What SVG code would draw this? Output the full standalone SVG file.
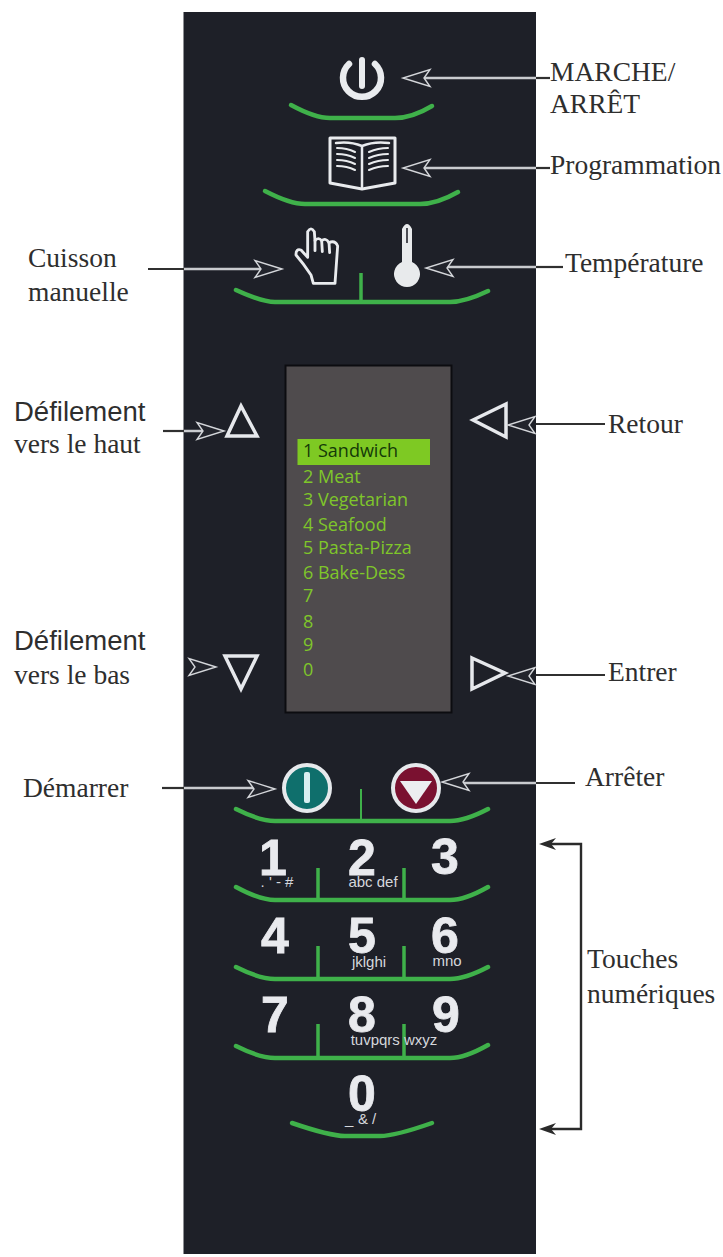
<svg xmlns="http://www.w3.org/2000/svg" width="723" height="1257" viewBox="0 0 723 1257">
<style>
.lab{font-family:"Liberation Serif",serif;font-size:27.500px;fill:#2e2e2e}
.labs{font-family:"Liberation Sans",sans-serif;font-size:27.500px;fill:#2e2e2e}
.arc{fill:none;stroke:#3fb14a;stroke-width:4.500;stroke-linecap:round;stroke-linejoin:round}
.tick{fill:none;stroke:#3fb14a;stroke-width:3.500}
.ico{fill:none;stroke:#e9ebee;stroke-linejoin:round;stroke-linecap:round}
.tri{fill:none;stroke:#e6e8ec;stroke-width:3.500;stroke-linejoin:miter}
.d{font-family:"Liberation Sans",sans-serif;font-weight:700;font-size:50px;fill:#e9eaee;stroke:#e9eaee;stroke-width:.8;text-anchor:middle}
.s{font-family:"Liberation Sans",sans-serif;font-size:15px;fill:#d5d7dc;text-anchor:middle}
.m{font-family:"Open Sans",sans-serif;font-size:18px;fill:#7fc62a}
.lo{stroke:#303030;stroke-width:2.200;fill:none}
.li{stroke:#c9cbcf;stroke-width:2.500;fill:none}
.hd{fill:#22242c;stroke:#d4d6da;stroke-width:1.400;stroke-linejoin:miter}
.bk{fill:#2a2a2a}
</style>
<defs>
<path id="head" d="M0,0 L-27,-8.500 L-21,0 L-27,8.500 Z"/>
</defs>
<rect width="723" height="1257" fill="#fff"/>
<rect id="panel" x="183.500" y="12" width="352.500" height="1242" fill="#1e2028"/>

<g id="power">
<path class="ico" stroke-width="6.500" d="M349,64 A19,19 0 1 0 375,64"/>
<path class="ico" stroke-width="6" d="M362,60 V86"/>
<path class="arc" d="M291,105 Q315,118 330,118 L395,118 Q412,118 432,106"/>
</g>
<g id="book">
<path class="ico" stroke-width="3" d="M330,138 H395 V183 L362,189 L330,183 Z"/>
<path class="ico" stroke-width="2.500" d="M362,146 V187 M362,146 Q350,141 336,143 M362,146 Q374,141 389,143"/>
<path class="ico" stroke-width="2" d="M337,148 Q347,148 355,152 M337,154 Q347,154 355,158 M337,160 Q347,160 355,164 M337,166 Q347,166 355,170 M388,148 Q378,148 369,152 M388,154 Q378,154 369,158 M388,160 Q378,160 369,164 M388,166 Q378,166 369,170"/>
<path class="arc" d="M265,191 Q290,204 305,204 L420,204 Q437,204 458,192"/>
</g>
<g id="manual">
<g transform="translate(285,220) scale(.3333)" class="ico" stroke-width="8.500">
<path d="M85,190 L78,165 Q55,130 33,105 Q32,85 48,90 L68,112 L68,35 Q78,18 88,35 L90,62 Q100,50 110,62 Q122,52 132,68 Q150,60 158,78 L150,190 Z"/>
<path d="M90,62 L90,92 M110,62 L112,95 M132,68 L134,98"/>
</g>
</g>
<g id="temperature">
<path d="M402,229 Q407,219 412,229 V262 A13,13 0 1 1 402,262 Z" fill="#e8eaec"/>
<path d="M407,228 V243" stroke="#22242c" stroke-width="1.600"/>
</g>
<g id="bar-top">
<path class="arc" d="M236,290 Q262,302 275,302 L450,302 Q465,302 488,291"/>
<path class="tick" d="M361,273 V302"/>
</g>

<g id="screen">
<rect x="285.500" y="365.500" width="166" height="347" fill="#4f4b4d" stroke="#0c0c10" stroke-width="2"/>
<rect x="297.500" y="439" width="132.500" height="26" fill="#7ec923"/>
<text class="m" x="303" y="457" style="fill:#143a08">1 Sandwich</text>
<text class="m" x="303" y="483">2 Meat</text>
<text class="m" x="303" y="506">3 Vegetarian</text>
<text class="m" x="303" y="531">4 Seafood</text>
<text class="m" x="303" y="554">5 Pasta-Pizza</text>
<text class="m" x="303" y="579">6 Bake-Dess</text>
<text class="m" x="303" y="602">7</text>
<text class="m" x="303" y="628">8</text>
<text class="m" x="303" y="651">9</text>
<text class="m" x="303" y="676">0</text>
</g>
<g id="up"><path class="tri" d="M241,406 L227,436 H257 Z"/></g>
<g id="down"><path class="tri" d="M225,656 H257 L241,689 Z"/></g>
<g id="back"><path class="tri" d="M473,420 L506,404 V437 Z"/></g>
<g id="enter"><path class="tri" d="M472,658 L505,673 L472,689 Z"/></g>

<g id="start">
<circle cx="307" cy="788" r="23" fill="#0f6f6c" stroke="#e6e9ec" stroke-width="4"/>
<rect x="304" y="772" width="6" height="31" rx="2" fill="#d9eef0"/>
</g>
<g id="stop">
<circle cx="416" cy="788" r="23" fill="#7a1130" stroke="#e6e9ec" stroke-width="4"/>
<path d="M400,781 H432 L416,804 Z" fill="#eceef0"/>
</g>
<g id="bar-run">
<path class="arc" d="M236,809 Q260,821 275,821 L450,821 Q465,821 488,809"/>
<path class="tick" style="stroke-width:2" d="M361,789 V821"/>
</g>

<g id="keys-1">
<text class="d" x="273" y="875">1</text><text class="d" x="362" y="875">2</text><text class="d" x="445" y="874">3</text>
<text class="s" x="277" y="887">. ' - #</text><text class="s" x="373" y="887">abc def</text>
<path class="arc" d="M236,887 Q260,900 275,900 L450,900 Q465,900 488,887"/>
<path class="tick" d="M318,868 V900 M404,868 V900"/>
</g>
<g id="keys-2">
<text class="d" x="275" y="953">4</text><text class="d" x="362" y="953">5</text><text class="d" x="445" y="953">6</text>
<text class="s" x="369" y="967">jklghi</text><text class="s" x="447" y="966">mno</text>
<path class="arc" d="M236,967 Q260,979 275,979 L450,979 Q465,979 488,967"/>
<path class="tick" d="M318,946 V979 M404,946 V979"/>
</g>
<g id="keys-3">
<text class="d" x="275" y="1032">7</text><text class="d" x="362" y="1032">8</text><text class="d" x="446" y="1032">9</text>
<path class="arc" d="M236,1046 Q260,1058 275,1058 L450,1058 Q465,1058 488,1045"/>
<path class="tick" d="M318,1024 V1058 M404,1024 V1058"/>
<text class="s" x="394" y="1045">tuvpqrs wxyz</text>
</g>
<g id="keys-4">
<text class="d" x="362" y="1111">0</text>
<text class="s" style="text-anchor:start" x="345 358 369 372" y="1124">_&amp; /</text>
<path class="arc" d="M292,1123 Q330,1136 345,1136 L380,1136 Q395,1136 432,1123"/>
</g>

<g id="connectors">
<path class="lo" d="M550,78 H536"/><path class="li" d="M536,78 H424"/><use href="#head" class="hd" transform="translate(403,78)rotate(180)"/>
<path class="lo" d="M550,168 H536"/><path class="li" d="M536,168 H424"/><use href="#head" class="hd" transform="translate(403,168)rotate(180)"/>
<path class="lo" d="M148,269 H184"/><path class="li" d="M184,269 H261"/><use href="#head" class="hd" transform="translate(282,269)"/>
<path class="lo" d="M563,267 H536"/><path class="li" d="M536,267 H447"/><use href="#head" class="hd" transform="translate(426,268)rotate(180)"/>
<path class="lo" d="M163,431 H184"/><path class="li" d="M184,431 H203"/><use href="#head" class="hd" transform="translate(224,431)"/>
<path class="lo" d="M605,424 H536"/><use href="#head" class="hd" transform="translate(508,425)rotate(180)"/>
<use href="#head" class="hd" transform="translate(216,667)"/>
<path class="lo" d="M605,675 H536"/><use href="#head" class="hd" transform="translate(508,676)rotate(180)"/>
<path class="lo" d="M162,788 H184"/><path class="li" d="M184,788 H254"/><use href="#head" class="hd" transform="translate(275,789)"/>
<path class="lo" d="M575,783 H536"/><path class="li" d="M536,783 H463"/><use href="#head" class="hd" transform="translate(442,782)rotate(180)"/>
<path d="M550,844 H581 V1129 H550" fill="none" stroke="#2a2a2a" stroke-width="2.400"/>
<path class="bk" d="M539,844 L556,838 L551,844 L556,850 Z"/>
<path class="bk" d="M539,1129 L556,1123 L551,1129 L556,1135 Z"/>
</g>

<g id="labels">
<text class="lab" x="550" y="81">MARCHE/</text>
<text class="lab" x="550" y="113">ARRÊT</text>
<text class="lab" x="550" y="174">Programmation</text>
<text class="lab" x="565" y="272">Température</text>
<text class="lab" x="28" y="267">Cuisson</text>
<text class="lab" x="28" y="301">manuelle</text>
<text class="labs" x="14" y="421">Défilement</text>
<text class="lab" x="14" y="453">vers le haut</text>
<text class="lab" x="608" y="433">Retour</text>
<text class="labs" x="14" y="650">Défilement</text>
<text class="lab" x="14" y="684">vers le bas</text>
<text class="lab" x="608" y="681">Entrer</text>
<text class="lab" x="23" y="797">Démarrer</text>
<text class="lab" x="585" y="786">Arrêter</text>
<text class="lab" x="587" y="968">Touches</text>
<text class="lab" x="587" y="1003">numériques</text>
</g>
</svg>
